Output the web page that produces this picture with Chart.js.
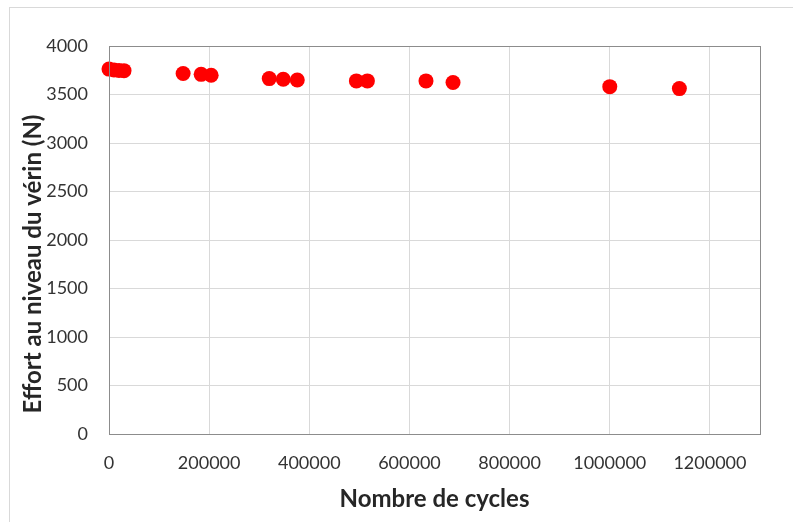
<!DOCTYPE html>
<html>
<head>
<meta charset="utf-8">
<script src="https://cdn.jsdelivr.net/npm/chart.js@4.4.1/dist/chart.umd.min.js"></script>
<style>
  html, body { margin: 0; padding: 0; background: #fff; }
  #wrap { position: relative; width: 793px; height: 522px; overflow: hidden; }
  #frame { position: absolute; left: 9px; top: 7px; width: 800px; height: 530px;
           border-left: 1px solid #d9d9d9; border-top: 1px solid #d9d9d9; }
  canvas { position: absolute; left: 0; top: 0; }
</style>
</head>
<body>
<div id="wrap">
  <div id="frame"></div>
  <canvas id="c" width="793" height="522"></canvas>
</div>
<script>
// Cycle counts and the measured actuator force (N)
const cycles = [0, 10000, 20000, 30000, 148000, 184000, 204000, 320000, 348000, 376000,
                494000, 516000, 633000, 687000, 1000000, 1139000];
const effort = [3762, 3752, 3748, 3746, 3716, 3708, 3698, 3664, 3657, 3650,
                3640, 3640, 3640, 3623, 3581, 3561];

const xTicks = [0, 200000, 400000, 600000, 800000, 1000000, 1200000];
const yTicks = [0, 500, 1000, 1500, 2000, 2500, 3000, 3500, 4000];

const xTitle = 'Nombre de cycles';
const yTitle = 'Effort au niveau du vérin (N)';

const points = cycles.map((c, i) => ({ x: c, y: effort[i] }));

const tickFont = { family: 'Lato', size: 18 };
const titleFont = { family: 'Lato', size: 24, weight: 'bold' };

// Grey frame around the plotting area, plus the rotated y-axis title
// (sits a little below the middle of the axis)
const plotFrame = {
  id: 'plotFrame',
  afterDatasetsDraw(chart) {
    const a = chart.chartArea, ctx = chart.ctx;
    ctx.save();
    ctx.strokeStyle = '#8c8c8c';
    ctx.lineWidth = 1;
    ctx.strokeRect(Math.round(a.left) + 0.5, Math.round(a.top) + 0.5,
                   Math.round(a.right - a.left), Math.round(a.bottom - a.top));
    ctx.translate(33, (a.top + a.bottom) / 2 + 24);
    ctx.rotate(-Math.PI / 2);
    ctx.font = `${titleFont.weight} ${titleFont.size}px ${titleFont.family}`;
    ctx.fillStyle = '#262626';
    ctx.textAlign = 'center';
    ctx.textBaseline = 'middle';
    ctx.fillText(yTitle, 0, 0);
    ctx.restore();
  }
};

new Chart(document.getElementById('c'), {
  type: 'scatter',
  data: {
    datasets: [{
      data: points,
      backgroundColor: '#ff0000',
      borderWidth: 0,
      pointRadius: 7.5,
      pointHoverRadius: 7.5,
      clip: false
    }]
  },
  options: {
    responsive: false,
    animation: false,
    events: [],
    layout: { padding: { left: 10, right: 33, top: 46, bottom: 0 } },
    plugins: { legend: { display: false }, tooltip: { enabled: false } },
    scales: {
      x: {
        type: 'linear',
        min: 0,
        max: 1300000,
        afterBuildTicks(scale) { scale.ticks = xTicks.map(v => ({ value: v })); },
        afterFit(scale) { scale.height = 88; },
        ticks: { font: tickFont, color: '#333333', padding: 18, maxRotation: 0,
                 callback: v => String(v) },
        grid: { color: '#d9d9d9', drawTicks: false },
        border: { color: '#8c8c8c' },
        title: { display: true, text: xTitle, font: titleFont, color: '#262626',
                 padding: { top: 0, bottom: 8 } }
      },
      y: {
        type: 'linear',
        min: 0,
        max: 4000,
        afterBuildTicks(scale) { scale.ticks = yTicks.map(v => ({ value: v })); },
        afterFit(scale) { scale.width = 99; },
        ticks: { font: tickFont, color: '#333333', padding: 21, callback: v => String(v) },
        grid: { color: '#d9d9d9', drawTicks: false },
        border: { color: '#8c8c8c' },
        title: { display: false }
      }
    }
  },
  plugins: [plotFrame]
});
</script>
</body>
</html>
